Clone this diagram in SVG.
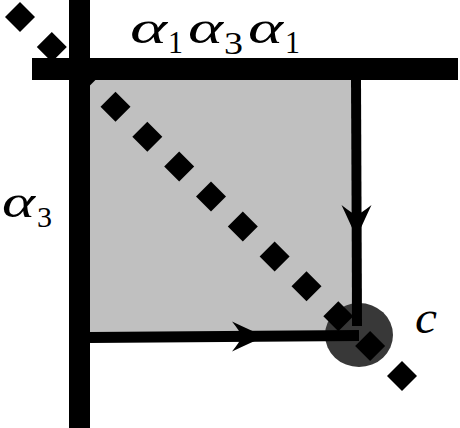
<svg xmlns="http://www.w3.org/2000/svg" xmlns:xlink="http://www.w3.org/1999/xlink" width="460" height="428" viewBox="0 0 460 428">
<style>
.bar{stroke:#000;fill:none;stroke-linecap:butt}
.gr{font-family:"Liberation Serif","DejaVu Serif",serif;font-style:italic;fill:#000}
.dg{font-family:"Liberation Serif","DejaVu Serif",serif;fill:#000}
</style>
<defs>
<path id="dia" d="M0,-15 L15,0 L0,15 L-15,0 Z" fill="#000"/>
<path id="ah" d="M0,0 Q-14,-6 -33,-15 Q-25,-5 -23,0 Q-25,5 -33,15 Q-14,6 0,0 Z" fill="#000"/>
</defs>
<rect width="460" height="428" fill="#fff"/>
<g id="region">
<polygon points="90,80 351,80 352,332 90,332" fill="#c0c0c0"/>
</g>
<g id="point-c">
<ellipse cx="359" cy="335" rx="34" ry="32" fill="#383838"/>
</g>
<g id="connectors">
<line class="bar" x1="79.5" y1="0" x2="79.5" y2="428" stroke-width="21"/>
<line class="bar" x1="32" y1="69" x2="458" y2="69" stroke-width="22"/>
<line class="bar" x1="356" y1="80" x2="357" y2="326" stroke-width="10"/>
<line class="bar" x1="90" y1="337.5" x2="359" y2="335.5" stroke-width="11"/>
<use xlink:href="#ah" transform="translate(356.5,238) rotate(90)"/>
<use xlink:href="#ah" transform="translate(265,336.5)"/>
</g>
<g id="diagonal">
<use xlink:href="#dia" x="20" y="17"/>
<use xlink:href="#dia" x="51.8" y="46.9"/>
<use xlink:href="#dia" x="83.7" y="76.8"/>
<use xlink:href="#dia" x="115.5" y="106.8"/>
<use xlink:href="#dia" x="147.3" y="136.7"/>
<use xlink:href="#dia" x="179.2" y="166.6"/>
<use xlink:href="#dia" x="211" y="196.5"/>
<use xlink:href="#dia" x="242.8" y="226.4"/>
<use xlink:href="#dia" x="274.6" y="256.4"/>
<use xlink:href="#dia" x="306.5" y="286.3"/>
<use xlink:href="#dia" x="338.3" y="316.2"/>
<use xlink:href="#dia" x="370.1" y="346.1"/>
<use xlink:href="#dia" x="402" y="376"/>
</g>
<g id="label-top">
<text class="gr" x="130" y="43" font-size="46" textLength="37" lengthAdjust="spacingAndGlyphs">α</text>
<text class="dg" x="168" y="53" font-size="31" textLength="15" lengthAdjust="spacingAndGlyphs">1</text>
<text class="gr" x="188" y="43" font-size="46" textLength="35" lengthAdjust="spacingAndGlyphs">α</text>
<text class="dg" x="224" y="54" font-size="31" textLength="19" lengthAdjust="spacingAndGlyphs">3</text>
<text class="gr" x="248" y="43" font-size="46" textLength="35" lengthAdjust="spacingAndGlyphs">α</text>
<text class="dg" x="285" y="53" font-size="31" textLength="15" lengthAdjust="spacingAndGlyphs">1</text>
</g>
<g id="label-left">
<text class="gr" x="2" y="217" font-size="46" textLength="33" lengthAdjust="spacingAndGlyphs">α</text>
<text class="dg" x="37" y="227" font-size="29" textLength="15" lengthAdjust="spacingAndGlyphs">3</text>
</g>
<g id="label-c">
<text class="gr" x="415" y="333" font-size="46" textLength="22" lengthAdjust="spacingAndGlyphs">c</text>
</g>
</svg>
